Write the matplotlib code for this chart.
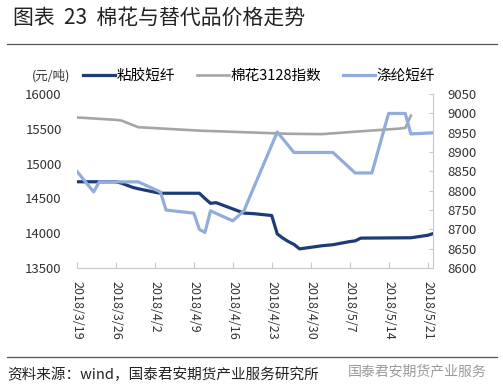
import pandas as pd
import matplotlib
matplotlib.use('Agg')
import matplotlib.pyplot as plt
import matplotlib.dates as mdates

plt.rcParams['font.family'] = ['Noto Sans CJK SC', 'DejaVu Sans']

# 粘胶短纤 (left axis)
vis_dates = ['2018-03-19', '2018-03-26', '2018-03-27', '2018-03-28', '2018-03-29', '2018-03-30',
             '2018-04-02', '2018-04-03', '2018-04-10', '2018-04-11', '2018-04-12', '2018-04-13',
             '2018-04-16', '2018-04-17', '2018-04-18', '2018-04-20', '2018-04-23', '2018-04-24',
             '2018-04-25', '2018-04-26', '2018-04-27', '2018-04-28', '2018-05-02', '2018-05-04',
             '2018-05-07', '2018-05-08', '2018-05-09', '2018-05-18', '2018-05-21', '2018-05-22']
vis_vals = [14740, 14740, 14720, 14690, 14660, 14640,
            14590, 14575, 14575, 14500, 14430, 14440,
            14350, 14320, 14290, 14280, 14255, 13990,
            13930, 13880, 13840, 13775, 13820, 13835,
            13880, 13890, 13930, 13935, 13970, 13995]

# 棉花3128指数 (left axis)
cot_dates = ['2018-03-19', '2018-03-26', '2018-03-27', '2018-03-30', '2018-04-10', '2018-04-19',
             '2018-04-26', '2018-05-02', '2018-05-08', '2018-05-16', '2018-05-17', '2018-05-18']
cot_vals = [15665, 15630, 15620, 15525, 15475, 15450,
            15430, 15425, 15460, 15505, 15515, 15690]

# 涤纶短纤 (right axis)
pol_dates = ['2018-03-19', '2018-03-22', '2018-03-23', '2018-03-30', '2018-04-03', '2018-04-04',
             '2018-04-09', '2018-04-10', '2018-04-11', '2018-04-12', '2018-04-16', '2018-04-17',
             '2018-04-18', '2018-04-24', '2018-04-27', '2018-05-04', '2018-05-08', '2018-05-11',
             '2018-05-14', '2018-05-17', '2018-05-18', '2018-05-22']
pol_vals = [8850, 8797, 8823, 8823, 8797, 8750,
            8742, 8700, 8692, 8748, 8722, 8735,
            8748, 8952, 8899, 8899, 8846, 8846,
            9000, 9000, 8947, 8950]

xticks = pd.date_range('2018-03-19', '2018-05-21', freq='7D')
left_ticks = [13500, 14000, 14500, 15000, 15500, 16000]
right_ticks = [8600, 8650, 8700, 8750, 8800, 8850, 8900, 8950, 9000, 9050]

fig = plt.figure(figsize=(5.03, 3.89), dpi=100)
ax = fig.add_axes([0.153, 0.311, 0.708, 0.447])
ax2 = ax.twinx()

l1, = ax.plot(pd.to_datetime(vis_dates), vis_vals, color='#1c3c78', lw=2.3, label='粘胶短纤')
l2, = ax.plot(pd.to_datetime(cot_dates), cot_vals, color='#a5a5a5', lw=1.9, label='棉花3128指数')
l3, = ax2.plot(pd.to_datetime(pol_dates), pol_vals, color='#92acdc', lw=2.3, label='涤纶短纤')

ax.set_xlim(pd.Timestamp('2018-03-19'), pd.Timestamp('2018-05-22'))
ax.set_ylim(13500, 16000)
ax2.set_ylim(8600, 9050)
ax.set_yticks(left_ticks)
ax2.set_yticks(right_ticks)
ax.set_xticks(xticks)
ax.xaxis.set_major_formatter(mdates.DateFormatter('%Y/%-m/%-d'))

for a in (ax, ax2):
    for s in a.spines.values():
        s.set_visible(False)
ax.spines['bottom'].set_visible(True)
ax.spines['bottom'].set_color('#c8c8c8')
ax2.spines['right'].set_visible(True)
ax2.spines['right'].set_color('#c8c8c8')

ax.tick_params(axis='y', length=0, pad=11, labelsize=9.5, colors='#333333')
ax.tick_params(axis='x', direction='in', length=4, color='#c8c8c8', pad=9,
               labelsize=9, labelcolor='#333333', labelrotation=270)
ax2.tick_params(axis='y', direction='in', length=3, color='#c8c8c8', pad=10,
                labelsize=9.5, labelcolor='#333333')

fig.legend(handles=[l1, l2, l3], loc='center', bbox_to_anchor=(0.515, 0.805), ncol=3,
           frameon=False, fontsize=10.5, handlelength=2.2, handletextpad=0.1,
           columnspacing=1.5)
fig.text(0.064, 0.805, '(元/吨)', fontsize=9, ha='left', va='center', color='#333333')

fig.text(0.026, 0.955, '图表  23  棉花与替代品价格走势', fontsize=15, ha='left', va='center', color='#222222')
fig.add_artist(plt.Line2D([0.014, 0.988], [0.887, 0.887], color='#555555', lw=0.9))
fig.add_artist(plt.Line2D([0.014, 0.988], [0.082, 0.082], color='#555555', lw=0.9))
fig.text(0.014, 0.037, '资料来源：wind，国泰君安期货产业服务研究所', fontsize=10.5, ha='left', va='center', color='#222222')
fig.text(0.968, 0.045, '国泰君安期货产业服务', fontsize=10, ha='right', va='center', color='#9a9a9a')

fig.savefig('out.png', dpi=100)
